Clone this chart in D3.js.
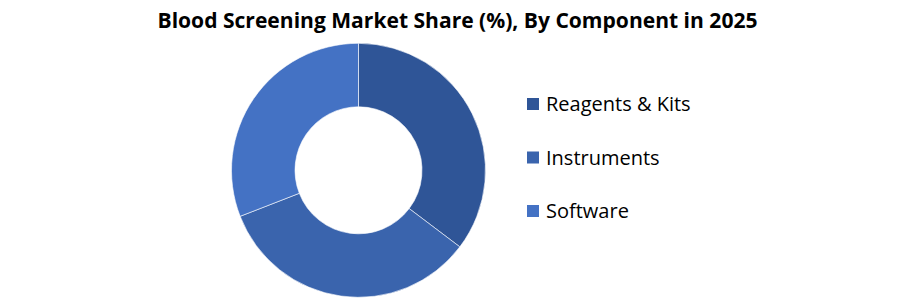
<!DOCTYPE html>
<html>
<head>
<meta charset="utf-8">
<script src="https://cdn.jsdelivr.net/npm/d3@7"></script>
<style>
  body { margin: 0; background: #fff; }
  svg { display: block; }
</style>
</head>
<body>
<svg id="chart" width="917" height="298"></svg>
<script>
"use strict";

// données
const components = ["Reagents & Kits", "Instruments", "Software"];
const shares = [35.3, 33.8, 30.9];
const colors = ["#2F5597", "#3A64AD", "#4472C4"];

const svg = d3.select("#chart");
const width = 917;

// titre
svg.append("text")
  .attr("x", width / 2 - 1)
  .attr("y", 28)
  .attr("text-anchor", "middle")
  .attr("font-family", "'Open Sans', sans-serif")
  .attr("font-weight", "bold")
  .attr("font-size", "21px")
  .attr("textLength", 600)
  .attr("lengthAdjust", "spacingAndGlyphs")
  .text("Blood Screening Market Share (%), By Component  in 2025");

// donut
const cx = 358.5, cy = 170.3;
const outerR = 127, innerR = 63.5;

const data = components.map((c, i) => ({ name: c, value: shares[i] }));

const pie = d3.pie()
  .value(d => d.value)
  .sort(null);

const arc = d3.arc()
  .innerRadius(innerR)
  .outerRadius(outerR);

const color = d3.scaleOrdinal()
  .domain(components)
  .range(colors);

let g = svg.append("g")
  .attr("transform", `translate(${cx},${cy})`);

g.selectAll("path")
  .data(pie(data))
  .enter()
  .append("path")
  .attr("d", arc)
  .attr("fill", d => color(d.data.name))
  .attr("stroke", "#ffffff")
  .attr("stroke-width", 0.6);

// légende
const legendY = d3.scalePoint()
  .domain(components)
  .range([104, 211]);

let legend = svg.append("g")
  .selectAll("g")
  .data(components)
  .enter()
  .append("g")
  .attr("transform", d => `translate(527,${legendY(d)})`);

legend.append("rect")
  .attr("x", 0)
  .attr("y", -6)
  .attr("width", 12)
  .attr("height", 12)
  .attr("fill", d => color(d));

legend.append("text")
  .attr("x", 19)
  .attr("y", 7)
  .attr("font-family", "'Open Sans', sans-serif")
  .attr("font-size", "20px")
  .attr("fill", "#000")
  .text(d => d);
</script>
</body>
</html>
